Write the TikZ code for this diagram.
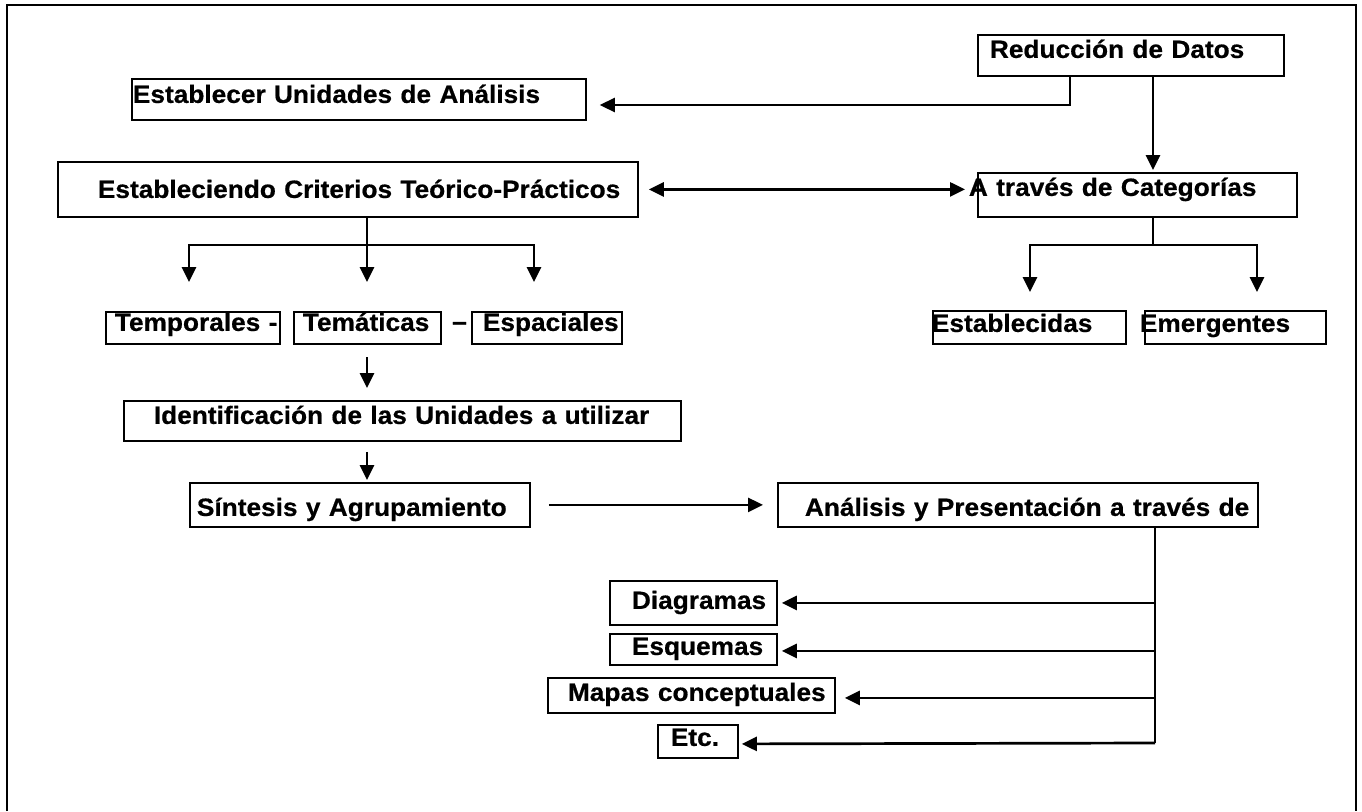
\documentclass[tikz,border=0pt]{standalone}
\usepackage{fontspec}
\setmainfont{Liberation Sans}[FakeStretch=1.05, BoldFeatures={FakeBold=0.6}]
\usetikzlibrary{arrows.meta,calc}
\tikzset{
  txt/.style={font=\fontsize{25}{29}\selectfont\bfseries},
  bx/.style={txt, draw, line width=1.8pt, inner sep=0pt, anchor=north west, align=left},
  ln/.style={line width=2.7pt},
  arr/.style={ln, -{Triangle[length=15pt,width=14pt]}},
  darr/.style={ln, {Triangle[length=15pt,width=14pt]}-{Triangle[length=15pt,width=14pt]}},
  frm/.style={line width=2pt},
}
\begin{document}
\begin{tikzpicture}[x=1pt,y=-1pt]
\useasboundingbox (0,0) rectangle (1362,811);
\draw[frm] (7,811) -- (7,5) -- (1356,5) -- (1356,811);

\node[bx, text width=306pt, text height=23pt, text depth=18pt] (red) at (977,34) {\hspace*{12pt}\mbox{Reducción de Datos}};
\node[bx, text width=454pt, text height=24pt, text depth=17pt] (est) at (131,78) {\hspace*{1pt}\mbox{Establecer Unidades de Análisis}};
\node[bx, text width=580pt, text height=36pt, text depth=19pt] (crit) at (57,161) {\hspace*{40pt}\mbox{Estableciendo Criterios Teórico-Prácticos}};
\node[bx, text width=319pt, text height=23pt, text depth=21pt] (cat) at (977,172) {\hspace*{-9pt}\mbox{A través de Categorías}};
\node[bx, text width=174pt, text height=19pt, text depth=13pt] (temp) at (105,311) {\hspace*{9pt}\mbox{Temporales -}};
\node[bx, text width=147pt, text height=19pt, text depth=13pt] (tema) at (293,311) {\hspace*{9pt}\mbox{Temáticas}};
\node[txt, inner sep=0pt, anchor=base west] (dash) at (452,330) {–};
\node[bx, text width=150pt, text height=19pt, text depth=13pt] (esp) at (471,311) {\hspace*{11pt}\mbox{Espaciales}};
\node[bx, text width=193pt, text height=21pt, text depth=12pt] (estab) at (932,310) {\hspace*{-1pt}\mbox{Establecidas}};
\node[bx, text width=181pt, text height=21pt, text depth=12pt] (emer) at (1144,310) {\hspace*{-5pt}\mbox{Emergentes}};
\node[bx, text width=557pt, text height=23pt, text depth=17pt] (ident) at (123,400) {\hspace*{30pt}\mbox{Identificación de las Unidades a utilizar}};
\node[bx, text width=340pt, text height=33pt, text depth=11pt] (sint) at (189,482) {\hspace*{7pt}\mbox{Síntesis y Agrupamiento}};
\node[bx, text width=480pt, text height=33pt, text depth=11pt] (anal) at (777,482) {\hspace*{27pt}\mbox{Análisis y Presentación a través de}};
\node[bx, text width=167pt, text height=28pt, text depth=16pt] (diag) at (609,580) {\hspace*{22pt}\mbox{Diagramas}};
\node[bx, text width=167pt, text height=21pt, text depth=10pt] (esq) at (609,633) {\hspace*{22pt}\mbox{Esquemas}};
\node[bx, text width=287pt, text height=23pt, text depth=12pt] (mapas) at (547,677) {\hspace*{20pt}\mbox{Mapas conceptuales}};
\node[bx, text width=80pt, text height=21pt, text depth=12pt] (etc) at (657,724) {\hspace*{13pt}\mbox{Etc.}};

\coordinate (j1) at (367,245);
\coordinate (j2) at (1153,245);
\coordinate (j3) at (1155,743);

% Reduccion de Datos
\draw[arr] ($(red.south west)+(93,0)$) |- ($(est.north east)+(13,27)$);
\draw[arr] ($(red.south west)+(176,0)$) -- ($(cat.north west)+(176,-2)$);
% Criterios <-> Categorias
\draw[darr] ($(crit.east)+(10,0)$) -- ($(cat.west |- crit.east)+(-12,0)$);
% Criterios -> three
\draw[ln] ($(crit.south west)+(310,0)$) -- (j1);
\draw[arr] (j1) -| ($(temp.north west)+(84,-29)$);
\draw[arr] (j1) -- ($(tema.north west)+(74,-29)$);
\draw[arr] (j1) -| ($(esp.north west)+(63,-29)$);
% Categorias -> two
\draw[ln] ($(cat.south west)+(176,0)$) -- (j2);
\draw[arr] (j2) -| ($(estab.north west)+(98,-18)$);
\draw[arr] (j2) -| ($(emer.north west)+(113,-18)$);
% vertical chain
\draw[arr] ($(tema.north west)+(74,46)$) -- ($(ident.north west)+(244,-12)$);
\draw[arr] ($(ident.south west)+(244,10)$) -- ($(sint.north west)+(178,-2)$);
\draw[arr] ($(sint.east)+(18,0)$) -- ($(anal.west)+(-14,0)$);
% Analisis -> list
\draw[ln] ($(anal.south west)+(378,0)$) -- (j3);
\draw[arr] (j3 |- diag.east) -- ($(diag.east)+(4,0)$);
\draw[arr] ($(j3 |- esq.east)+(0,1.5)$) -- ($(esq.east)+(4,1.5)$);
\draw[arr] ($(j3 |- mapas.east)+(0,2.5)$) -- ($(mapas.east)+(9,2.5)$);
\draw[arr] (j3) -- ($(etc.east)+(3,2.5)$);
\end{tikzpicture}
\end{document}
